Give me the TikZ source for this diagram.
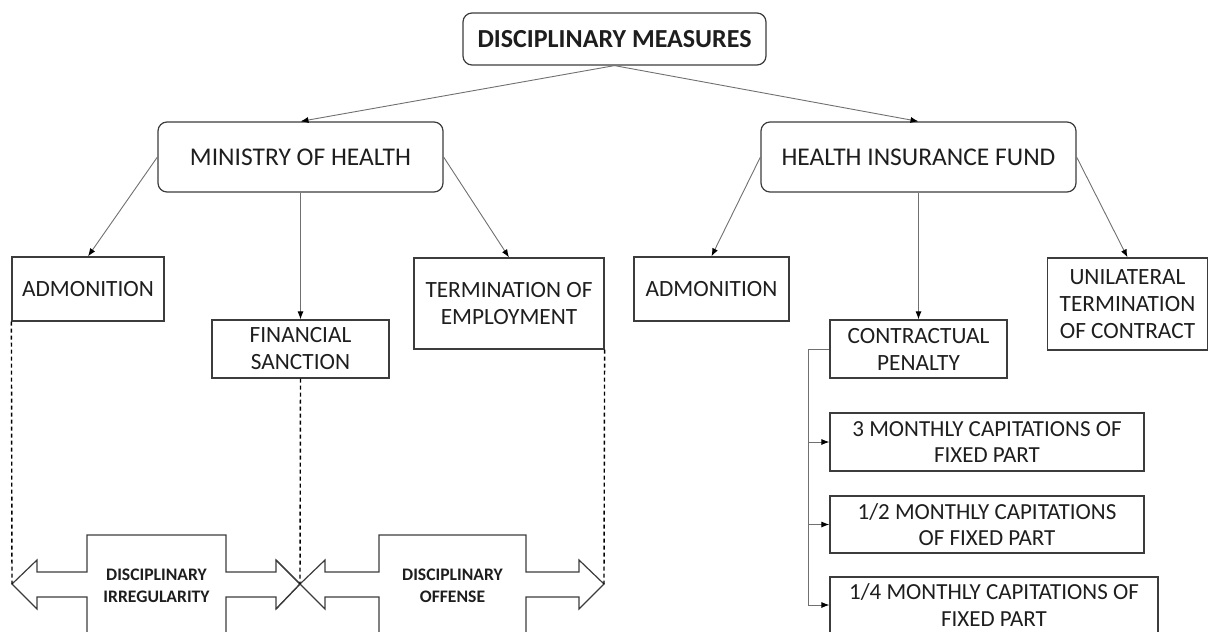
\documentclass[tikz,border=0pt]{standalone}
\usepackage{fontspec}
\setmainfont{Carlito}
\usetikzlibrary{positioning,arrows.meta}
\definecolor{linegray}{HTML}{707070}
\definecolor{boxgray}{HTML}{3C3C3C}
\definecolor{txtblack}{HTML}{1E1E1E}

\begin{document}
\begin{tikzpicture}[x=1pt,y=-1pt,
  box/.style={draw=boxgray, line width=1.2pt, fill=white, align=center, inner sep=2pt,
    text=txtblack, font=\fontsize{23.3}{27}\selectfont},
  rbox/.style={box, rounded corners=9pt, font=\fontsize{25.5}{30}\selectfont},
  conn/.style={draw=linegray, line width=0.9pt, -{Latex[length=8pt,width=6pt,color=black]}},
  dashline/.style={draw=black, line width=1.4pt, dash pattern=on 4pt off 3pt},
  callout/.style={draw=boxgray, line width=1.2pt, fill=white},
  calltxt/.style={align=center, text=txtblack, font=\fontsize{17.6}{22}\selectfont\bfseries}]
\useasboundingbox (0,0) rectangle (1208,632);

\node[rbox, minimum width=303pt, minimum height=52pt, font=\fontsize{26}{30}\selectfont\bfseries] (top) at (614.5,39) {DISCIPLINARY MEASURES};
\node[rbox, minimum width=285pt, minimum height=70pt] (moh) at (300.5,157) {MINISTRY OF HEALTH};
\node[rbox, minimum width=315pt, minimum height=70pt] (hif) at (918.5,157) {HEALTH INSURANCE FUND};

\node[box, minimum width=152pt, minimum height=64pt] (adm1) at (88,289) {ADMONITION};
\node[box, minimum width=177pt, minimum height=58pt] (fin) at (300.5,349) {FINANCIAL\\SANCTION};
\node[box, minimum width=190pt, minimum height=91pt] (term) at (509,303.5) {TERMINATION OF\\EMPLOYMENT};

\node[box, minimum width=155pt, minimum height=64pt] (adm2) at (711.5,289) {ADMONITION};
\node[box, minimum width=177pt, minimum height=58pt] (pen) at (918.5,349) {CONTRACTUAL\\PENALTY};
\node[box, minimum width=160pt, minimum height=92pt] (unil) at (1127.5,304) {UNILATERAL\\TERMINATION\\OF CONTRACT};

\node[box, minimum width=314pt, minimum height=58pt, font=\fontsize{23}{26.5}\selectfont] (cap3) at (987,442) {3 MONTHLY CAPITATIONS OF\\FIXED PART};
\node[box, minimum width=314pt, minimum height=57pt, font=\fontsize{23}{26.5}\selectfont] (cap2) at (987,524.5) {1/2 MONTHLY CAPITATIONS\\OF FIXED PART};
\node[box, minimum width=328pt, minimum height=56pt, font=\fontsize{23}{26.5}\selectfont] (cap4) at (994,605) {1/4 MONTHLY CAPITATIONS OF\\FIXED PART};

\draw[conn] (top.south) -- (moh.north);
\draw[conn] (top.south) -- (hif.north);
\draw[conn] (moh.west) -- (adm1.north);
\draw[conn] (moh.south) -- (fin.north);
\draw[conn] (moh.east) -- (term.north);
\draw[conn] (hif.west) -- (adm2.north);
\draw[conn] (hif.south) -- (pen.north);
\draw[conn] (hif.east) -- (unil.north);

\coordinate (bus) at (808,349);
\draw[draw=linegray, line width=0.9pt] (pen.west) -- (bus);
\draw[conn] (bus) |- (cap3.west);
\draw[conn] (bus) |- (cap2.west);
\draw[conn] (bus) |- (cap4.west);

\coordinate (irrL) at (12,584);
\coordinate (mid) at (300,584);
\coordinate (offR) at (604,584);

\draw[callout] (irrL) -- (37,560) -- (37,572) -- (87,572) -- (87,535) -- (226,535) -- (226,572)
  -- (276,572) -- (276,560) -- (mid) -- (276,609) -- (276,597) -- (226,597) -- (226,633)
  -- (87,633) -- (87,597) -- (37,597) -- (37,609) -- cycle;
\draw[callout] (mid) -- (325,560) -- (325,572) -- (379,572) -- (379,535) -- (526,535) -- (526,572)
  -- (579,572) -- (579,560) -- (offR) -- (579,609) -- (579,597) -- (526,597) -- (526,633)
  -- (379,633) -- (379,597) -- (325,597) -- (325,609) -- cycle;
\draw[boxgray, line width=1.2pt] (276,560) -- (mid) -- (276,609);

\node[calltxt] (irr) at (156.5,586) {DISCIPLINARY\\IRREGULARITY};
\node[calltxt] (off) at (452.5,586) {DISCIPLINARY\\OFFENSE};

\draw[dashline] (adm1.south west) -- (irrL);
\draw[dashline] (fin.south) -- (mid);
\draw[dashline] (term.south east) -- (offR);
\end{tikzpicture}
\end{document}
